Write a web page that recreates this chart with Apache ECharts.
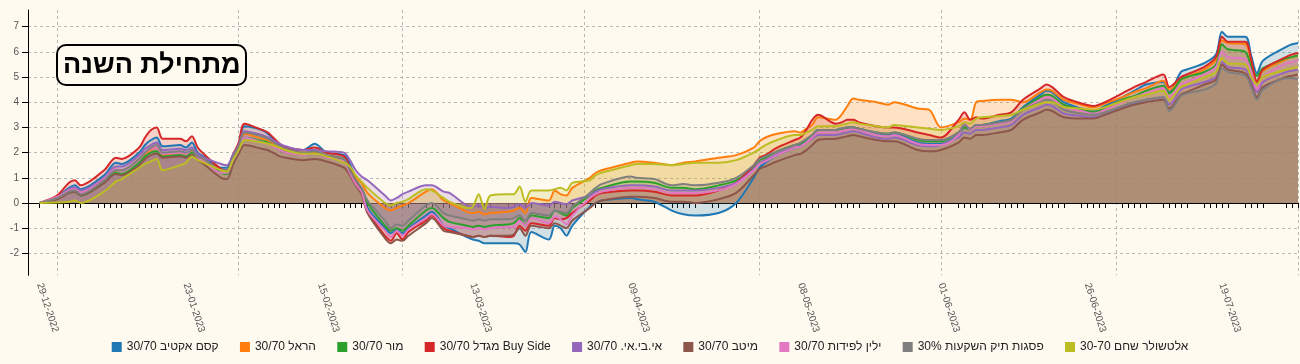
<!DOCTYPE html>
<html><head><meta charset="utf-8">
<script src="https://cdn.jsdelivr.net/npm/echarts@6.0.0/dist/echarts.min.js"></script>
<style>html,body{margin:0;padding:0;background:#fffaf0}#c{width:1300px;height:364px}</style>
</head><body><div id="c"></div>
<script>
const seriesNames = ['קסם אקטיב 30/70','הראל 30/70','מור 30/70','מגדל 30/70 Buy Side','אי.בי.אי. 30/70','מיטב 30/70','ילין לפידות 30/70','פסגות תיק השקעות 30%','אלטשולר שחם 30-70'];
const colors = ['#1f77b4','#ff7f0e','#2ca02c','#d62728','#9467bd','#8c564b','#e377c2','#7f7f7f','#bcbd22'];
const tickLabels = ['29-12-2022','23-01-2023','15-02-2023','13-03-2023','09-04-2023','08-05-2023','01-06-2023','26-06-2023','19-07-2023'];
const tradingDays = ['2022-12-29',
'2023-01-01','2023-01-02','2023-01-03','2023-01-04','2023-01-05','2023-01-08','2023-01-09','2023-01-10','2023-01-11','2023-01-12',
'2023-01-15','2023-01-16','2023-01-17','2023-01-18','2023-01-19','2023-01-22','2023-01-23','2023-01-24','2023-01-25','2023-01-26',
'2023-01-29','2023-01-30','2023-01-31','2023-02-01','2023-02-02','2023-02-05','2023-02-06','2023-02-07','2023-02-08','2023-02-09',
'2023-02-12','2023-02-13','2023-02-14','2023-02-15','2023-02-16','2023-02-19','2023-02-20','2023-02-21','2023-02-22','2023-02-23',
'2023-02-26','2023-02-27','2023-02-28','2023-03-01','2023-03-02','2023-03-05','2023-03-06','2023-03-08','2023-03-09',
'2023-03-12','2023-03-13','2023-03-14','2023-03-15','2023-03-16','2023-03-19','2023-03-20','2023-03-21','2023-03-22','2023-03-23',
'2023-03-26','2023-03-27','2023-03-28','2023-03-29','2023-03-30','2023-04-02','2023-04-03','2023-04-04','2023-04-09','2023-04-10','2023-04-13',
'2023-04-16','2023-04-17','2023-04-18','2023-04-19','2023-04-20','2023-04-23','2023-04-24','2023-04-27',
'2023-04-30','2023-05-01','2023-05-02','2023-05-03','2023-05-04','2023-05-07','2023-05-08','2023-05-09','2023-05-10','2023-05-11',
'2023-05-14','2023-05-15','2023-05-16','2023-05-17','2023-05-18','2023-05-21','2023-05-22','2023-05-23','2023-05-24',
'2023-05-28','2023-05-29','2023-05-30','2023-05-31','2023-06-01','2023-06-04','2023-06-05','2023-06-06','2023-06-07','2023-06-08',
'2023-06-11','2023-06-12','2023-06-13','2023-06-14','2023-06-15','2023-06-18','2023-06-19','2023-06-20','2023-06-21','2023-06-22',
'2023-06-25','2023-06-26','2023-06-27','2023-06-28','2023-06-29','2023-07-02','2023-07-03','2023-07-04','2023-07-05','2023-07-06',
'2023-07-09','2023-07-10','2023-07-11','2023-07-12','2023-07-13','2023-07-16','2023-07-17','2023-07-18','2023-07-19','2023-07-20',
'2023-07-23','2023-07-24','2023-07-25','2023-07-26','2023-07-30','2023-07-31','2023-08-01'];
const sampleDates = ['2022-12-29','2023-01-01','2023-01-03','2023-01-04','2023-01-05','2023-01-09','2023-01-11','2023-01-12','2023-01-15','2023-01-16',
'2023-01-17','2023-01-18','2023-01-19','2023-01-22','2023-01-23','2023-01-24','2023-01-25','2023-01-26','2023-01-29','2023-01-30',
'2023-01-31','2023-02-01','2023-02-02','2023-02-05','2023-02-06','2023-02-08','2023-02-09','2023-02-12','2023-02-14','2023-02-16',
'2023-02-19','2023-02-20','2023-02-21','2023-02-22','2023-02-23','2023-02-26','2023-02-27','2023-02-28','2023-03-01','2023-03-02',
'2023-03-05','2023-03-06','2023-03-08','2023-03-09','2023-03-12','2023-03-13','2023-03-14','2023-03-15','2023-03-16','2023-03-19',
'2023-03-20','2023-03-21','2023-03-22','2023-03-23','2023-03-26','2023-03-27','2023-03-28','2023-03-29','2023-03-30','2023-04-02',
'2023-04-03','2023-04-04','2023-04-09','2023-04-10','2023-04-13','2023-04-16','2023-04-18','2023-04-20','2023-04-24','2023-04-27',
'2023-04-30','2023-05-01','2023-05-02','2023-05-04','2023-05-07','2023-05-08','2023-05-09','2023-05-10','2023-05-11','2023-05-14',
'2023-05-15','2023-05-16','2023-05-17','2023-05-18','2023-05-21','2023-05-23','2023-05-24','2023-05-28','2023-05-30','2023-06-01',
'2023-06-04','2023-06-05','2023-06-06','2023-06-07','2023-06-08','2023-06-11','2023-06-13','2023-06-15','2023-06-18','2023-06-19',
'2023-06-20','2023-06-22','2023-06-25','2023-06-27','2023-06-29','2023-07-02','2023-07-04','2023-07-06','2023-07-09','2023-07-10',
'2023-07-12','2023-07-13','2023-07-16','2023-07-18','2023-07-19','2023-07-20','2023-07-23','2023-07-24','2023-07-25','2023-07-26',
'2023-07-30','2023-07-31','2023-08-01'];

const kesem = [0,.25,.6,.7,.55,1.1,1.6,1.55,2.0,2.3, 2.5,2.6,2.25,2.3,2.2,2.4,2.0,1.85,1.4,1.4, 1.9,2.3,3.05,2.9,2.75,2.3,2.2,2.1,2.35,2.0,
 1.9,1.55,.95,.5,-.2,-1.0,-1.2,-1.05,-1.2,-1.0, -.5,-.35,-.9,-1.0,-1.35,-1.45,-1.5,-1.6,-1.6,-1.6, -1.6,-1.65,-1.95,-1.15,-1.45,-.9,-1.0,-1.3,-.9,-.15,
 0,.1,.2,.15,.05,-.3,-.45,-.5,-.4,0, 1.0,1.4,1.6,1.9,2.2,2.3,2.5,2.7,2.9,2.9, 2.95,3.0,3.0,2.95,2.75,2.7,2.75,2.4,2.35,2.35,
 2.7,3.0,2.9,3.1,3.1,3.25,3.35,3.8,4.3,4.45, 4.4,4.0,3.75,3.65,3.85,4.2,4.45,4.7,4.8,4.4, 5.2,5.3,5.55,5.9,6.8,6.6,6.6,5.85,5.15,5.65, 6.2,6.3,6.35];
const harel = [0,.2,.45,.5,.4,.9,1.3,1.3,1.75,1.95, 2.1,2.2,1.9,2.0,1.95,2.05,1.8,1.7,1.3,1.25, 1.8,2.2,2.75,2.55,2.5,2.2,2.1,2.0,2.0,1.9,
 1.75,1.4,1.0,.8,.4,-.2,-.3,-.2,-.1,0, .45,.55,.1,0,-.35,-.4,-.35,-.45,-.4,-.35, -.3,-.2,-.4,.2,.1,.5,.35,.3,.6,1.0,
 1.2,1.3,1.6,1.65,1.6,1.5,1.6,1.65,1.8,1.9, 2.2,2.45,2.6,2.75,2.85,2.8,2.95,3.1,3.4,3.3, 3.5,3.85,4.15,4.1,4.0,3.9,4.0,3.75,3.7,3.0,
 3.2,3.35,3.3,4.0,4.05,4.1,4.1,4.0,4.4,4.5, 4.45,4.1,3.9,3.8,3.95,4.2,4.4,4.55,4.85,4.5, 4.9,5.0,5.3,5.7,6.45,6.35,6.3,5.6,4.8,5.25, 5.7,5.8,5.85];
const mor = [0,.2,.4,.45,.3,.8,1.2,1.15,1.6,1.85, 2.0,2.05,1.85,1.9,1.85,2.0,1.75,1.6,1.2,1.15, 1.7,2.1,2.6,2.45,2.4,2.1,2.0,1.9,1.95,1.8,
 1.7,1.35,.85,.55,0,-.9,-1.1,-1.0,-1.1,-.9, -.3,-.2,-.6,-.75,-.9,-.95,-.9,-.95,-.9,-.85, -.8,-.6,-.9,-.5,-.6,-.3,-.4,-.5,-.2,.3,
 .5,.6,.85,.85,.8,.6,.6,.55,.7,.9, 1.4,1.7,1.8,2.05,2.3,2.35,2.5,2.7,2.9,2.9, 2.95,3.0,3.0,2.95,2.8,2.75,2.8,2.5,2.45,2.45,
 2.8,3.0,2.9,3.1,3.1,3.2,3.3,3.75,4.2,4.3, 4.25,3.9,3.7,3.6,3.75,4.1,4.25,4.45,4.65,4.35, 4.9,5.0,5.2,5.5,6.3,6.1,6.0,5.4,5.05,5.35, 5.75,5.8,5.85];
const migdal = [0,.3,.8,.9,.7,1.3,1.8,1.75,2.2,2.6, 2.9,3.0,2.55,2.55,2.45,2.65,2.2,1.95,1.35,1.3, 1.9,2.4,3.15,2.9,2.8,2.35,2.2,2.1,2.2,2.0,
 1.85,1.4,.8,.4,-.35,-1.3,-1.5,-1.2,-1.45,-1.15, -.7,-.5,-1.0,-1.1,-1.3,-1.35,-1.3,-1.35,-1.3,-1.35, -1.3,-.9,-1.1,-.8,-.9,-.6,-.65,-.6,-.4,.1,
 .3,.4,.5,.5,.45,.3,.3,.3,.5,.8, 1.5,1.8,1.9,2.2,2.5,2.6,2.9,3.3,3.5,3.15, 3.2,3.3,3.3,3.2,3.05,3.0,3.0,2.8,2.7,2.6,
 3.3,3.6,3.3,3.4,3.35,3.5,3.6,4.1,4.55,4.7, 4.6,4.2,3.95,3.85,4.0,4.35,4.6,4.8,5.1,4.6, 5.0,5.1,5.4,5.8,6.6,6.4,6.4,5.7,4.8,5.3, 5.8,5.9,5.95];
const ibi = [0,.2,.55,.6,.5,1.0,1.45,1.45,1.9,2.15, 2.3,2.4,2.1,2.15,2.1,2.2,1.95,1.8,1.55,1.5, 1.9,2.3,2.85,2.7,2.6,2.35,2.25,2.1,2.1,2.05,
 2.0,1.7,1.3,1.05,.9,.3,.1,.2,.35,.45, .7,.7,.45,.4,-.1,-.15,-.1,-.2,-.15,-.2, -.15,-.05,-.2,0,-.1,.05,0,-.05,.1,.3,
 .45,.55,.7,.7,.65,.5,.5,.5,.6,.8, 1.35,1.6,1.7,1.95,2.2,2.25,2.4,2.55,2.7,2.7, 2.75,2.8,2.85,2.8,2.6,2.55,2.6,2.3,2.25,2.3,
 2.6,2.8,2.75,2.9,2.9,3.0,3.1,3.5,3.8,3.9, 3.85,3.55,3.45,3.4,3.5,3.8,3.95,4.1,4.2,3.9, 4.5,4.6,4.8,5.0,5.6,5.4,5.3,4.9,4.4,4.8, 5.2,5.25,5.3];
const meitav = [0,.15,.4,.45,.3,.8,1.15,1.1,1.5,1.75, 1.9,1.95,1.8,1.85,1.8,1.9,1.7,1.55,1.0,.95, 1.5,1.95,2.3,2.15,2.1,1.85,1.8,1.7,1.75,1.65,
 1.4,1.1,.7,.35,-.4,-1.4,-1.6,-1.45,-1.5,-1.3, -.8,-.6,-1.1,-1.15,-1.3,-1.35,-1.3,-1.35,-1.3,-1.3, -1.25,-1.0,-1.3,-.9,-1.0,-.8,-.9,-1.0,-.7,-.2,
 0,.1,.25,.25,.2,.05,.05,0,.15,.4, 1.1,1.35,1.45,1.65,1.9,1.95,2.1,2.3,2.5,2.55, 2.6,2.65,2.7,2.65,2.5,2.45,2.45,2.1,2.05,2.1,
 2.4,2.6,2.55,2.7,2.7,2.8,2.9,3.3,3.6,3.7, 3.65,3.4,3.35,3.35,3.5,3.75,3.9,4.0,4.1,3.75, 4.3,4.4,4.7,4.9,5.5,5.3,5.15,4.7,4.2,4.6, 5.0,5.05,5.1];
const yelin = [0,.25,.5,.55,.4,.95,1.35,1.3,1.75,2.0, 2.15,2.2,1.95,2.0,1.95,2.1,1.8,1.65,1.2,1.2, 1.7,2.1,2.6,2.4,2.35,2.1,2.0,1.9,1.95,1.8,
 1.65,1.2,.75,.45,-.3,-1.1,-1.35,-1.1,-1.3,-1.05, -.6,-.45,-.9,-.95,-1.0,-1.05,-1.0,-1.05,-1.0,-.95, -.95,-.7,-.9,-.6,-.8,-.55,-.65,-.85,-.5,.2,
 .35,.45,.6,.6,.55,.4,.4,.4,.5,.75, 1.3,1.55,1.65,1.9,2.2,2.25,2.4,2.6,2.8,2.8, 2.85,2.9,2.95,2.9,2.7,2.65,2.7,2.35,2.3,2.3,
 2.7,3.2,2.9,3.05,3.05,3.15,3.25,3.7,4.1,4.2, 4.15,3.8,3.65,3.55,3.7,4.0,4.2,4.35,4.55,4.2, 4.7,4.8,5.1,5.4,6.0,5.8,5.7,5.2,4.5,5.0, 5.55,5.6,5.65];
const psagot = [0,.2,.45,.5,.35,.9,1.3,1.3,1.75,2.0, 2.2,2.3,2.0,2.05,2.0,2.1,1.85,1.75,1.3,1.3, 1.8,2.25,2.8,2.65,2.55,2.25,2.15,2.0,2.05,1.9,
 1.75,1.3,.9,.6,.1,-.7,-1.0,-.85,-.9,-.7, -.1,0,-.4,-.5,-.65,-.7,-.65,-.7,-.65,-.65, -.6,-.5,-.7,-.4,-.5,-.3,-.35,-.4,-.15,.4,
 .6,.75,1.05,1.0,.95,.7,.75,.7,.8,1.0, 1.5,1.75,1.85,2.05,2.3,2.4,2.55,2.7,2.9,2.9, 2.95,3.0,3.0,2.95,2.8,2.75,2.8,2.55,2.5,2.5,
 2.8,3.1,2.95,3.1,3.1,3.2,3.3,3.7,4.0,4.1, 4.05,3.7,3.55,3.5,3.6,3.85,4.0,4.1,4.2,3.65, 4.25,4.35,4.5,4.75,5.35,5.2,5.05,4.6,4.1,4.5, 4.95,4.95,4.9];
const altshuler = [0,.02,.05,.1,0,.45,.85,.95,1.4,1.55, 1.65,1.75,1.3,1.5,1.6,1.85,1.7,1.6,1.3,1.25, 1.7,2.1,2.5,2.4,2.35,2.2,2.1,1.95,1.95,1.85,
 1.6,1.45,1.1,.85,.6,0,-.1,0,.05,.15, .55,.5,.2,.05,-.2,-.15,.35,-.25,.3,.35, .35,.65,.05,.5,.5,.55,.6,.5,.8,.9,
 1.1,1.2,1.5,1.55,1.55,1.5,1.55,1.6,1.6,1.7, 2.0,2.15,2.3,2.5,2.7,2.7,2.8,2.9,3.05,3.05, 3.1,3.15,3.2,3.15,3.05,3.0,3.1,3.0,2.95,2.9,
 3.05,3.2,3.15,3.35,3.4,3.45,3.5,3.7,3.95,4.0, 4.0,3.8,3.75,3.7,3.8,4.05,4.2,4.3,4.45,4.1, 4.6,4.7,5.0,5.2,5.75,5.55,5.5,5.0,4.7,5.0, 5.3,5.35,5.4];
const seriesValues = [kesem, harel, mor, migdal, ibi, meitav, yelin, psagot, altshuler];

const FONT = '"Liberation Sans", Arial, sans-serif';
const calendar = [];
for (let t = Date.parse('2022-12-27T00:00:00Z'); t <= Date.parse('2023-08-01T00:00:00Z'); t += 86400000) {
  calendar.push(new Date(t).toISOString().slice(0, 10));
}
const fmt = d => d.slice(8, 10) + '-' + d.slice(5, 7) + '-' + d.slice(0, 4);
const tradingSet = new Set(tradingDays);

const series = seriesNames.map((name, i) => {
  const m = new Map(sampleDates.map((d, j) => [d, seriesValues[i][j]]));
  return {
    name, type: 'line',
    data: calendar.map(d => m.has(d) ? m.get(d) : null),
    connectNulls: true, showSymbol: false, symbol: 'none', smooth: 0.3,
    lineStyle: { width: 2, color: colors[i] },
    itemStyle: { color: colors[i] },
    areaStyle: { color: colors[i], opacity: 0.2 },
    emphasis: { disabled: true }
  };
});

const chart = echarts.init(document.getElementById('c'), null, { renderer: 'canvas' });
chart.setOption({
  backgroundColor: '#fffaf0',
  animation: false,
  textStyle: { fontFamily: FONT },
  title: {
    text: 'מתחילת השנה', left: 57, top: 45,
    padding: [7, 6, 6, 6], borderColor: '#000', borderWidth: 2, borderRadius: 9,
    backgroundColor: '#fffaf0',
    textStyle: { fontSize: 27, fontWeight: 'bold', color: '#000', fontFamily: FONT }
  },
  legend: {
    data: seriesNames, bottom: 6, left: 'center', icon: 'rect', itemWidth: 10, itemHeight: 10, itemGap: 21.3,
    textStyle: { fontSize: 12, color: '#222', fontFamily: FONT }
  },
  grid: { left: 28, right: 2, top: 10, bottom: 88.7, containLabel: false, outerBoundsMode: 'none' },
  xAxis: {
    type: 'category', data: calendar, boundaryGap: false,
    axisLine: { lineStyle: { color: '#000' } },
    axisTick: { interval: (i, v) => tradingSet.has(v), length: 5, lineStyle: { color: '#000' } },
    axisLabel: { interval: (i, v) => tickLabels.includes(fmt(v)), formatter: v => fmt(v), rotate: -72, fontSize: 10, color: '#555', margin: 8 },
    splitLine: { show: true, interval: (i, v) => v.endsWith('-01'), lineStyle: { type: [3, 3], color: '#b8b8b8' } }
  },
  yAxis: {
    type: 'value', min: -2.87, max: 7.66, splitNumber: 10,
    axisLine: { show: true, lineStyle: { color: '#000' } },
    axisTick: { show: true, length: 6, lineStyle: { color: '#000' } },
    axisLabel: { showMinLabel: false, showMaxLabel: false, margin: 9, fontSize: 10, color: '#555' },
    splitLine: { show: true, showMinLine: false, showMaxLine: false, lineStyle: { type: [3, 3], color: '#b8b8b8' } }
  },
  series
});
</script></body></html>
